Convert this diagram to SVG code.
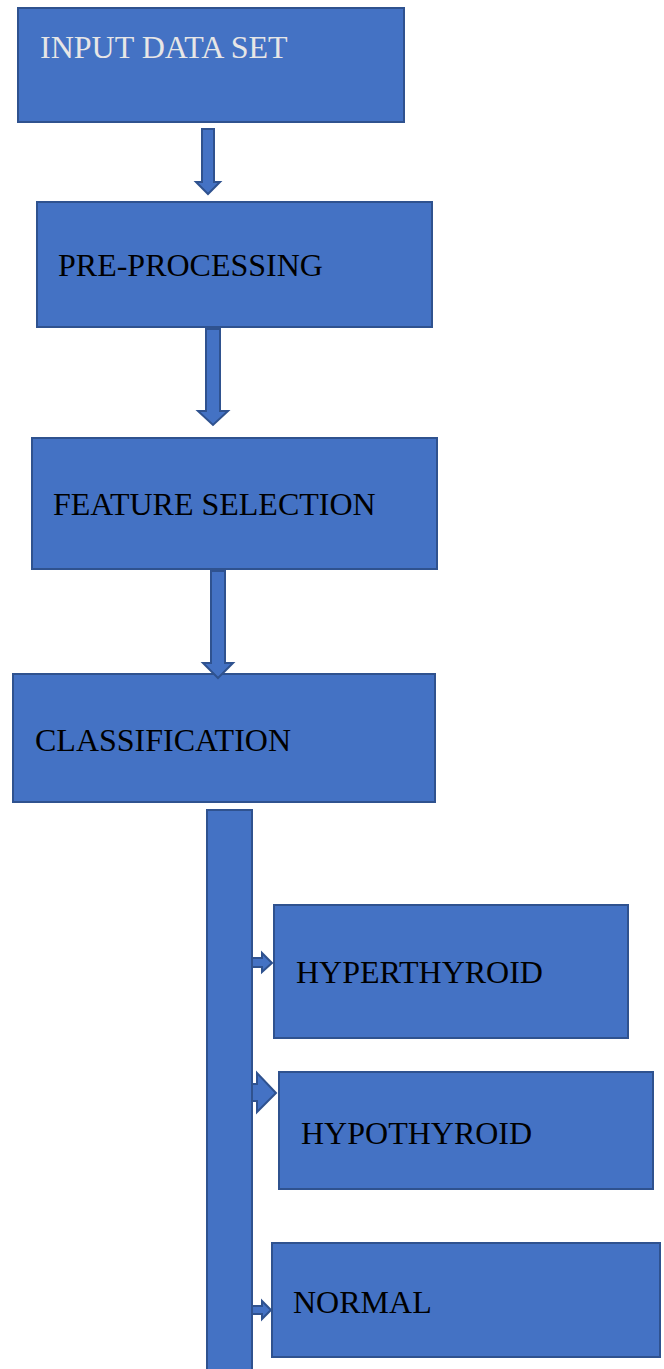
<svg xmlns="http://www.w3.org/2000/svg" width="664" height="1369" viewBox="0 0 664 1369">
<style>
.b{fill:#4472C4;stroke:#2F528F;stroke-width:2}
.t{font-family:"Liberation Serif","Times New Roman",serif;font-size:32px;fill:#000}
.w{fill:#E7E6E6}
</style>
<rect width="664" height="1369" fill="#fff"/>
<g id="input"><rect class="b" x="18" y="8" width="386" height="114"/><text class="t w" x="40" y="58">INPUT DATA SET</text></g>
<g id="preprocessing"><rect class="b" x="37" y="202" width="395" height="125"/><text class="t" x="58" y="276">PRE-PROCESSING</text></g>
<g id="feature"><rect class="b" x="32" y="438" width="405" height="131"/><text class="t" x="53" y="515">FEATURE SELECTION</text></g>
<g id="classification"><rect class="b" x="13" y="674" width="422" height="128"/><text class="t" x="35" y="751">CLASSIFICATION</text></g>
<g id="hyper"><rect class="b" x="274" y="905" width="354" height="133"/><text class="t" x="296" y="983">HYPERTHYROID</text></g>
<g id="hypo"><rect class="b" x="279" y="1072" width="374" height="117"/><text class="t" x="301" y="1144">HYPOTHYROID</text></g>
<g id="normal"><rect class="b" x="272" y="1243" width="388" height="114"/><text class="t" x="293" y="1313">NORMAL</text></g>
<g id="connectors">
<polygon class="b" points="202,129 214,129 214,182 220,182 208,194 196,182 202,182"/>
<polygon class="b" points="206,329 220,329 220,411 228,411 213,425 198,411 206,411"/>
<polygon class="b" points="211,571 225,571 225,663 233,663 218,678 203,663 211,663"/>
<rect class="b" x="207" y="810" width="45" height="570"/>
<polygon class="b" points="252,958 262,958 262,953 272,963 262,972 262,967 252,967"/>
<polygon class="b" points="252,1084 257,1084 257,1073 276,1093 257,1112 257,1101 252,1101"/>
<polygon class="b" points="252,1306 262,1306 262,1301 271,1310 262,1319 262,1314 252,1314"/>
</g>
</svg>
